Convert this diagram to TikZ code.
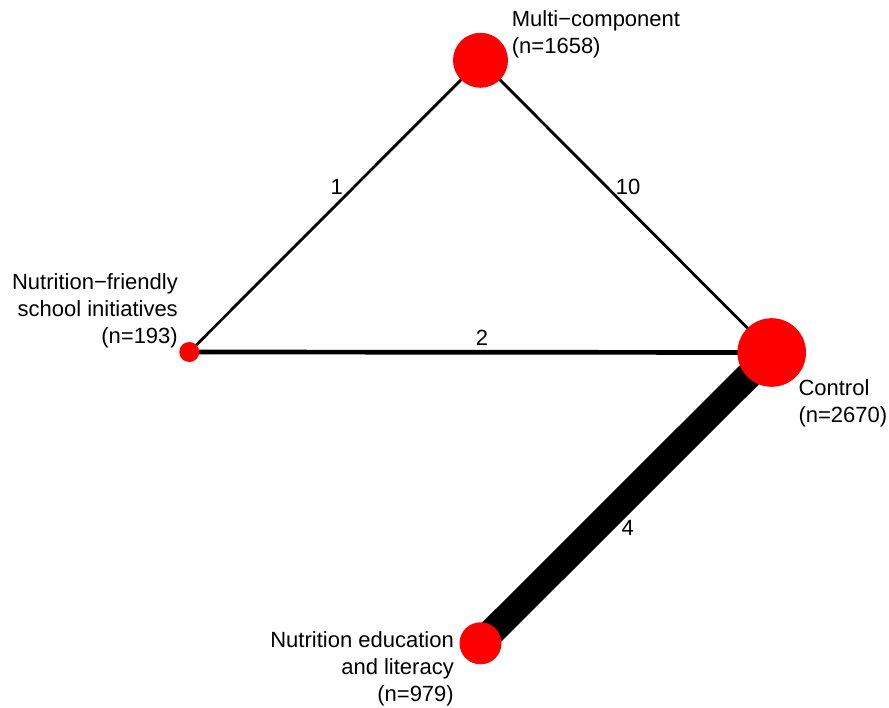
\documentclass[tikz,border=0pt]{standalone}
\usepackage{fontspec}
\setmainfont{Liberation Sans}
\usetikzlibrary{backgrounds}

\begin{document}
\begin{tikzpicture}[x=1pt,y=-1pt,line cap=butt,
    vertex/.style={circle,fill=red,inner sep=0pt,minimum size=#1},
    vlabel/.style={inner sep=0pt,font=\fontsize{22}{27}\selectfont},
    elabel/.style={inner sep=0pt,font=\fontsize{22}{27}\selectfont}]
  \useasboundingbox (0,0) rectangle (889,708);
  % Treatments, sized by participants.
  \node[vertex=55pt] (mc) at (480.5,60.3) {};
  \node[vertex=68.6pt] (ctrl) at (771.7,352.5) {};
  \node[vertex=20pt] (nfs) at (189.3,352) {};
  \node[vertex=42pt] (nel) at (480.5,643.3) {};
  \node[vlabel,anchor=north west,align=left] (mclab) at (511.7,10)
    {Multi−component\\(n=1658)};
  \node[vlabel,anchor=north west,align=left] (ctrllab) at (798.3,379)
    {Control\\(n=2670)};
  \node[vlabel,anchor=north east,align=right] (nfslab) at (178,273)
    {Nutrition−friendly\\school initiatives\\(n=193)};
  \node[vlabel,anchor=north east,align=right] (nellab) at (454,631.7)
    {Nutrition education\\and literacy\\(n=979)};

  % Comparisons, width by number of studies.
  \begin{pgfonlayer}{background}
    \draw[line width=2.8pt] (mc.center) -- (nfs.center);
    \draw[line width=2.8pt] (mc.center) -- (ctrl.center);
    \draw[line width=4.7pt] (nfs.center) -- (ctrl.center);
    \draw[line width=27pt] (ctrl.center) -- (nel.center);
  \end{pgfonlayer}
  \node[elabel] (k1) at (336.7,186.7) {1};
  \node[elabel] (k10) at (628,186.7) {10};
  \node[elabel] (k2) at (482,338) {2};
  \node[elabel] (k4) at (627.8,528.3) {4};
\end{tikzpicture}
\end{document}
